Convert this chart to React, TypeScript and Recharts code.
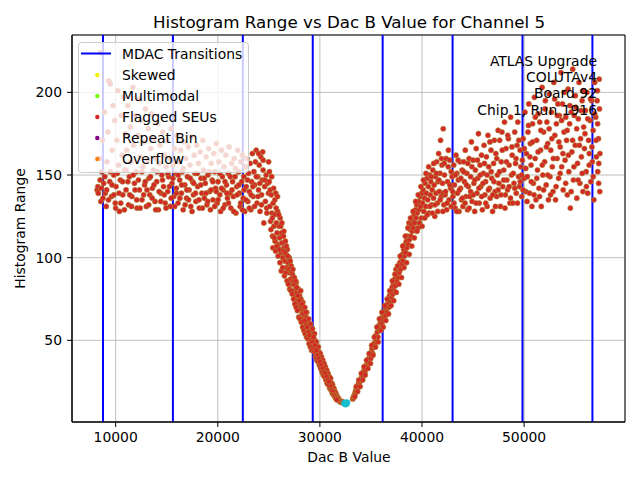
import React from 'react';
import {
  ScatterChart,
  Scatter,
  XAxis,
  YAxis,
  CartesianGrid,
  ReferenceLine,
  ReferenceArea,
} from 'recharts';

// Dac B values where the MDAC transitions sit
const mdacTransitions = [8760, 15607, 22454, 29301, 36148, 42995, 49842, 56689];

const xTicks = [10000, 20000, 30000, 40000, 50000];
const yTicks = [50, 100, 150, 200];
const xDomain: [number, number] = [5725, 59880];
const yDomain: [number, number] = [0.6, 234.7];

// [dac B value, histogram range] pairs
const leftPlateau: [number, number][] = [
  [8190, 141], [8260, 143], [8420, 160], [8494, 224], [8550, 134], [8640, 152], [8710, 171], [8830, 145], [8900, 188], [8980, 139],
  [9080, 131], [9150, 158], [9240, 176], [9330, 207], [9420, 146], [9470, 205], [9590, 137], [9660, 165], [9740, 192], [9820, 150], [9910, 183], [9960, 133],
  [10040, 143], [10120, 171], [10210, 201], [10290, 156], [10370, 128], [10450, 147], [10540, 186], [10620, 162], [10700, 138], [10790, 197], [10860, 153], [10940, 175],
  [11020, 141], [11100, 165], [11190, 192], [11260, 132], [11340, 149], [11430, 179], [11510, 158], [11590, 137], [11680, 203], [11750, 168], [11840, 145], [11920, 186],
  [12010, 152], [12090, 130], [12170, 174], [12260, 196], [12330, 141], [12420, 161], [12500, 183], [12580, 135], [12670, 155], [12750, 170], [12830, 144], [12920, 190],
  [13010, 131], [13090, 159], [13180, 178], [13260, 148], [13340, 138], [13430, 166], [13510, 187], [13590, 142], [13680, 153], [13760, 172], [13850, 134], [13930, 160],
  [14020, 146], [14100, 181], [14190, 129], [14270, 157], [14350, 168], [14440, 139], [14520, 150], [14600, 176], [14690, 143], [14770, 162], [14860, 133], [14940, 155],
  [15020, 171], [15100, 140], [15190, 149], [15270, 160], [15350, 131], [15440, 178], [15520, 145], [15600, 156], [15690, 137], [15770, 166], [15860, 151], [15940, 142],
  [16020, 174], [16110, 133], [16190, 158], [16270, 147], [16360, 165], [16440, 139], [16520, 152], [16610, 129], [16690, 170], [16770, 144], [16860, 160], [16940, 136],
  [17030, 149], [17110, 167], [17190, 141], [17280, 156], [17360, 131], [17440, 173], [17530, 146], [17610, 138], [17690, 162], [17780, 151], [17860, 134], [17940, 168],
  [18030, 143], [18110, 157], [18190, 130], [18280, 164], [18360, 148], [18440, 139], [18530, 171], [18610, 153], [18690, 136], [18780, 145], [18860, 161], [18940, 132],
  [19030, 150], [19110, 166], [19200, 140], [19280, 129], [19360, 157], [19450, 147], [19530, 135], [19610, 163], [19700, 152], [19780, 142], [19860, 169], [19950, 133],
  [20030, 146], [20110, 158], [20200, 138], [20280, 128], [20360, 165], [20450, 149], [20530, 141], [20610, 155], [20700, 132], [20780, 162], [20860, 144], [20950, 136],
  [21030, 151], [21110, 167], [21200, 139], [21280, 130], [21360, 157], [21450, 146], [21530, 137], [21610, 160], [21700, 149], [21780, 127], [21860, 143], [21950, 165],
  [22040, 152], [22110, 139], [22190, 131], [22260, 158], [22340, 146], [22410, 162], [22490, 136], [22560, 149], [22640, 128], [22710, 155], [22790, 143], [22860, 160],
  [22940, 134], [23010, 151], [23090, 140], [23160, 157], [23240, 129], [23310, 146], [23390, 163], [23460, 137], [23540, 152], [23610, 144], [23690, 158], [23760, 165],
  [23840, 133], [23910, 149], [23990, 141], [24060, 156], [24140, 128], [24210, 161], [24290, 138], [24360, 147], [24440, 153], [24510, 121], [24590, 143], [24660, 134],
  [24740, 150], [24810, 127], [24890, 145], [24960, 139],
];

// second pass over the same stretch: the crowded 127–155 strip under the legend
const leftPlateauLower: [number, number][] = [
  [8300, 139], [8480, 147], [8600, 142], [8760, 136], [8940, 149], [9120, 141], [9300, 135], [9480, 152], [9650, 144], [9830, 138],
  [10000, 130], [10160, 151], [10330, 139], [10500, 133], [10680, 146], [10850, 129], [11030, 153], [11200, 146], [11380, 138], [11550, 131],
  [11720, 150], [11900, 141], [12060, 135], [12230, 147], [12400, 130], [12570, 152], [12740, 138], [12900, 146], [13070, 141], [13240, 132],
  [13410, 149], [13580, 136], [13750, 144], [13920, 129], [14080, 152], [14250, 140], [14420, 134], [14590, 147], [14760, 138], [14930, 130],
  [15100, 151], [15270, 143], [15440, 136], [15610, 148], [15780, 131], [15950, 139], [16120, 150], [16290, 136], [16460, 144], [16630, 154],
  [16800, 132], [16970, 141], [17140, 135], [17310, 148], [17480, 128], [17650, 145], [17820, 139], [17990, 151], [18160, 135], [18330, 144],
  [18500, 130], [18670, 148], [18840, 139], [19010, 134], [19180, 152], [19350, 141], [19520, 146], [19690, 131], [19860, 140], [20030, 135],
  [20200, 151], [20370, 142], [20540, 130], [20710, 146], [20880, 139], [21050, 133], [21220, 149], [21390, 141], [21560, 128], [21730, 154],
  [21900, 138], [22070, 144], [22240, 133], [22410, 129], [22580, 141], [22750, 135], [22920, 147], [23090, 130], [23260, 138], [23430, 143],
  [23600, 131], [23770, 149], [23940, 137], [24110, 145], [24280, 132], [24450, 159], [24620, 147], [24790, 130], [24400, 164], [24000, 163],
];

const fallingEdge: [number, number][] = [
  [25040, 146], [25100, 131], [25170, 122], [25230, 138], [25300, 127], [25360, 113], [25420, 133], [25490, 119], [25550, 126], [25610, 110],
  [25680, 139], [25740, 121], [25800, 115], [25860, 128], [25930, 108], [25990, 119], [26050, 112], [26110, 124], [26180, 103], [26240, 115],
  [26300, 109], [26370, 100], [26430, 113], [26490, 106], [26560, 98], [26620, 110], [26680, 102], [26750, 94], [26810, 105], [26870, 97],
  [26940, 91], [27000, 100], [27060, 93], [27130, 87], [27190, 95], [27250, 84], [27310, 90], [27380, 86], [27440, 80], [27500, 88],
  [27570, 83], [27630, 77], [27690, 85], [27760, 79], [27820, 74], [27880, 81], [27950, 72], [28010, 77], [28070, 69], [28140, 75],
  [28200, 71], [28260, 66], [28330, 73], [28390, 68], [28450, 63], [28520, 70], [28580, 65], [28640, 60], [28710, 67], [28770, 62],
  [28830, 58], [28900, 63], [28960, 59], [29020, 55], [29090, 60], [29150, 56], [29210, 52], [29280, 57], [29340, 53], [29400, 49],
  [29470, 54], [29530, 50], [29590, 46], [29660, 49], [29720, 45], [29780, 42], [29850, 46], [29910, 43], [29970, 40], [30040, 42],
  [30100, 38], [30160, 40], [30230, 36], [30290, 38], [30350, 34], [30420, 36], [30480, 33], [30540, 34], [30610, 31], [30670, 32],
  [30730, 29], [30800, 30], [30860, 28], [30920, 28], [30990, 26], [31050, 27], [31110, 24], [31180, 24], [31240, 23], [31300, 21],
  [31370, 21], [31430, 19], [31490, 19], [31560, 18], [31620, 17], [31680, 16], [31750, 15], [31810, 15], [31870, 14], [31940, 13],
  [32000, 13], [32060, 12.5], [32130, 12.5], [32190, 13], [32260, 12.5],
];

const fallingEdgeSpread: [number, number][] = [
  [24980, 158], [25060, 152], [25130, 141], [25210, 117], [25280, 149], [25340, 124], [25400, 106], [25470, 142], [25530, 112], [25590, 135],
  [25660, 104], [25720, 130], [25790, 107], [25850, 137], [25910, 101], [25970, 126], [26030, 105], [26090, 97], [26160, 119], [26220, 92],
  [26280, 121], [26350, 94], [26410, 104], [26470, 116], [26530, 89], [26600, 103], [26660, 91], [26720, 107], [26790, 86], [26850, 101],
  [26910, 84], [26980, 93], [27040, 81], [27100, 98], [27170, 80], [27230, 92], [27290, 78], [27360, 93], [27420, 75], [27480, 84],
  [27550, 72], [27610, 86], [27670, 70], [27740, 82], [27800, 68], [27860, 77], [27930, 64], [27990, 74], [28050, 63], [28120, 80],
  [28180, 61], [28240, 72], [28310, 58], [28370, 66], [28430, 56], [28500, 62], [28560, 54], [28620, 67], [28690, 52], [28750, 58],
  [28810, 51], [28880, 55], [28940, 48], [29000, 53], [29070, 46], [29130, 50], [29190, 44], [29260, 49], [29320, 45], [29380, 52],
  [29450, 43], [29510, 47], [29570, 40], [29640, 44], [29700, 38], [29760, 41], [29830, 37], [29890, 39], [29950, 35], [30020, 37],
  [30080, 33], [30140, 35], [30210, 31], [30270, 33], [30330, 29], [30400, 31], [30460, 28], [30520, 30], [30590, 26], [30650, 28],
  [30710, 24], [30780, 26], [30840, 23], [30900, 25], [30970, 21], [31030, 22], [31090, 20], [31160, 20], [31220, 18], [31280, 19],
  [31350, 17], [31410, 17], [31470, 16], [31540, 15], [31600, 15], [31660, 14],
];

const minimumBins: [number, number][] = [
  [32420, 12], [32500, 11.5], [32580, 11.8], [32640, 12.3],
];

const risingEdge: [number, number][] = [
  [33220, 14.5], [33260, 15], [33300, 16], [33350, 16], [33400, 17], [33450, 18], [33490, 19], [33540, 20], [33590, 21], [33650, 21],
  [33720, 22], [33780, 24], [33840, 23], [33910, 25], [33970, 26], [34030, 26], [34100, 28], [34160, 29], [34220, 28], [34290, 31],
  [34350, 32], [34410, 31], [34480, 34], [34540, 35], [34600, 34], [34670, 37], [34730, 38], [34790, 37], [34860, 40], [34920, 41],
  [34980, 39], [35050, 43], [35110, 45], [35170, 42], [35240, 47], [35300, 48], [35360, 46], [35430, 51], [35490, 53], [35550, 50],
  [35620, 55], [35680, 52], [35740, 57], [35810, 59], [35870, 56], [35930, 61], [36000, 63], [36060, 60], [36120, 64], [36190, 62],
  [36250, 66], [36310, 64], [36380, 68], [36440, 65], [36500, 70], [36570, 67], [36630, 72], [36690, 75], [36760, 70], [36820, 77],
  [36880, 74], [36950, 79], [37010, 76], [37070, 82], [37140, 78], [37200, 84], [37260, 80], [37330, 87], [37390, 83], [37450, 93],
  [37520, 86], [37580, 90], [37640, 88], [37710, 94], [37770, 91], [37830, 97], [37900, 93], [37960, 100], [38020, 96], [38090, 102],
  [38150, 98], [38210, 105], [38280, 101], [38340, 108], [38400, 103], [38470, 110], [38530, 106], [38590, 113], [38660, 108], [38720, 121],
  [38780, 111], [38850, 117], [38910, 113], [38970, 120], [39040, 116], [39100, 123], [39160, 118], [39230, 126], [39290, 121], [39350, 129],
  [39420, 124], [39480, 132], [39540, 127], [39610, 118], [39670, 134], [39730, 129], [39800, 137], [39860, 131], [39920, 124], [39990, 139],
  [40050, 133], [40110, 141], [40180, 128], [40240, 136], [40300, 145], [40370, 131], [40430, 139], [40490, 148], [40560, 135], [40620, 143],
  [40680, 127], [40750, 150], [40810, 138], [40870, 146], [40940, 132], [41000, 141], [41060, 153], [41130, 136], [41190, 144], [41250, 125],
  [41320, 149], [41380, 139], [41440, 158], [41510, 133], [41570, 146], [41630, 163], [41700, 140], [41760, 151], [41820, 171], [41890, 137],
  [41950, 156], [42010, 145], [42080, 178], [42140, 132],
];

const risingEdgeSpread: [number, number][] = [
  [33420, 16], [33560, 22], [33690, 19], [33810, 26], [33940, 22], [34060, 30], [34190, 26], [34320, 34], [34440, 29], [34570, 38],
  [34700, 33], [34820, 42], [34950, 36], [35070, 47], [35200, 41], [35330, 52], [35450, 46], [35580, 58], [35710, 49], [35830, 63],
  [35960, 56], [36080, 67], [36210, 58], [36340, 71], [36460, 62], [36590, 75], [36720, 66], [36840, 80], [36970, 71], [37100, 86],
  [37230, 74], [37350, 90], [37480, 79], [37610, 95], [37730, 84], [37860, 101], [37990, 88], [38110, 107], [38240, 94], [38370, 113],
  [38490, 97], [38620, 118], [38750, 102], [38870, 124], [39000, 107], [39130, 128], [39250, 112], [39380, 134], [39510, 116], [39630, 138],
  [39760, 121], [39890, 143], [40010, 119], [40140, 147], [40270, 124], [40390, 151], [40520, 126], [40650, 155], [40770, 131], [40900, 149],
  [41030, 127], [41150, 157], [41280, 132], [41410, 151], [41540, 128], [41660, 147], [41790, 135], [41910, 160], [42040, 139],
];

const rightPlateau: [number, number][] = [
  [42200, 150], [42270, 138], [42350, 160], [42420, 129], [42500, 146], [42570, 155], [42650, 135], [42720, 159], [42800, 142], [42870, 131], [42950, 149],
  [43030, 137], [43110, 156], [43180, 144], [43260, 130], [43330, 162], [43410, 151], [43480, 139], [43560, 147], [43630, 128], [43710, 158], [43780, 142], [43860, 135], [43930, 153],
  [44010, 131], [44090, 158], [44160, 146], [44240, 165], [44310, 137], [44390, 151], [44460, 129], [44540, 143], [44610, 160], [44690, 137], [44760, 149], [44840, 170], [44910, 134],
  [45010, 159], [45080, 145], [45160, 128], [45230, 153], [45310, 166], [45380, 139], [45460, 148], [45530, 175], [45610, 133], [45680, 156], [45760, 143], [45830, 162], [45910, 129],
  [46010, 151], [46080, 168], [46160, 138], [46230, 146], [46310, 161], [46380, 131], [46460, 174], [46530, 155], [46610, 142], [46680, 136], [46760, 165], [46830, 148], [46910, 128],
  [47010, 157], [47080, 171], [47160, 140], [47230, 163], [47310, 137], [47380, 150], [47460, 177], [47530, 145], [47610, 171], [47680, 131], [47760, 158], [47830, 176], [47910, 143],
  [48010, 153], [48080, 182], [48160, 138], [48230, 166], [48310, 147], [48380, 141], [48460, 172], [48530, 156], [48610, 133], [48680, 185], [48760, 150], [48830, 162], [48910, 133],
  [49010, 145], [49080, 176], [49160, 157], [49230, 139], [49310, 168], [49380, 182], [49460, 149], [49530, 143], [49610, 165], [49680, 155], [49760, 137], [49830, 159], [49910, 172],
  [50010, 148], [50080, 188], [50160, 140], [50230, 163], [50310, 149], [50380, 176], [50460, 193], [50530, 139], [50610, 169], [50680, 156], [50760, 131], [50830, 181], [50910, 145],
  [51010, 197], [51080, 160], [51160, 135], [51230, 171], [51310, 153], [51380, 187], [51460, 142], [51530, 182], [51610, 165], [51680, 131], [51760, 203], [51830, 150], [51910, 176],
  [52010, 158], [52080, 195], [52160, 144], [52230, 182], [52310, 169], [52380, 135], [52460, 199], [52530, 149], [52610, 165], [52680, 188], [52760, 155], [52830, 140], [52910, 206],
  [53010, 174], [53080, 135], [53160, 181], [53230, 160], [53310, 193], [53380, 148], [53460, 186], [53530, 167], [53610, 212], [53680, 155], [53760, 193], [53830, 141], [53910, 176],
  [54010, 159], [54080, 185], [54160, 171], [54230, 138], [54310, 202], [54380, 152], [54460, 181], [54530, 130], [54610, 188], [54680, 164], [54760, 214], [54830, 147], [54910, 186],
  [55010, 168], [55080, 191], [55160, 136], [55230, 157], [55310, 184], [55380, 206], [55460, 145], [55530, 172], [55610, 161], [55680, 195], [55760, 140], [55830, 179], [55910, 166],
  [56010, 189], [56080, 152], [56160, 200], [56230, 139], [56310, 171], [56380, 163], [56460, 183], [56530, 146], [56610, 195], [56680, 158], [56760, 177], [56830, 135], [56910, 206],
  [57010, 185], [57080, 161], [57150, 195], [57210, 152], [57280, 172], [57350, 208], [57420, 163], [57200, 181], [57300, 145],
];

const rightPlateauFill: [number, number][] = [
  [42040, 128], [42180, 157], [42310, 140], [42460, 133], [42590, 165], [42730, 144], [42860, 152], [43000, 140], [43140, 133], [43270, 150],
  [43400, 128], [43540, 159], [43670, 141], [43810, 148], [43950, 136], [44080, 152], [44220, 133], [44350, 144], [44490, 157], [44620, 130],
  [44760, 140], [44890, 155], [45030, 138], [45160, 147], [45300, 133], [45430, 159], [45570, 142], [45700, 150], [45840, 137], [45970, 145],
  [46110, 157], [46240, 133], [46380, 150], [46510, 141], [46650, 170], [46780, 152], [46920, 138], [47050, 146], [47190, 131], [47320, 160],
  [47460, 141], [47590, 152], [47730, 138], [47860, 165], [48000, 147], [48130, 130], [48270, 158], [48400, 174], [48540, 143], [48670, 136],
  [48810, 167], [48940, 151], [49080, 142], [49210, 160], [49350, 133], [49480, 171], [49620, 146], [49750, 150], [49890, 141], [50020, 166],
  [50160, 154], [50290, 134], [50430, 180], [50560, 161], [50700, 146], [50830, 170], [50970, 138], [51100, 185], [51240, 148], [51370, 164],
  [51510, 137], [51640, 177], [51780, 156], [51910, 141], [52050, 190], [52180, 167], [52320, 150], [52450, 178], [52590, 138], [52720, 172],
  [52860, 160], [52990, 196], [53130, 143], [53260, 186], [53400, 170], [53530, 151], [53670, 183], [53800, 163], [53940, 200], [54070, 145],
  [54210, 177], [54340, 162], [54480, 192], [54610, 140], [54750, 171], [54880, 155], [55020, 198], [55150, 178], [55290, 147], [55420, 168],
  [55560, 189], [55690, 151], [55830, 201], [55960, 175], [56100, 143], [56230, 184], [56370, 156], [56500, 196], [56640, 167], [56770, 149],
  [56910, 187], [57040, 171], [57180, 201], [57310, 157], [57380, 190], [57410, 140],
];

const toPoints = (pairs: [number, number][]) => pairs.map(([dac, range]) => ({ dac, range }));

const binPoints = toPoints([
  ...leftPlateau,
  ...leftPlateauLower,
  ...fallingEdge,
  ...fallingEdgeSpread,
  ...risingEdge,
  ...risingEdgeSpread,
  ...rightPlateau,
  ...rightPlateauFill,
]);
const minimumPoints = toPoints(minimumBins);

const FONT = '"DejaVu Sans", sans-serif';

const RedDot = (props: any) => (
  <circle cx={props.cx} cy={props.cy} r={2.6} fill="#d62728" stroke="#a8862a" strokeWidth={0.6} />
);

const CyanDot = (props: any) => (
  <circle cx={props.cx} cy={props.cy} r={3.2} fill="#17becf" stroke="#17becf" strokeWidth={0.5} />
);

const legendItems = [
  { label: 'Skewed', color: '#f2f200' },
  { label: 'Multimodal', color: '#7cfc00' },
  { label: 'Flagged SEUs', color: '#d62728' },
  { label: 'Repeat Bin', color: '#800080' },
  { label: 'Overflow', color: '#ff7f0e' },
];

const noteLines = ['ATLAS Upgrade', 'COLUTAv4', 'Board 92', 'Chip 1, Run 1916'];

export default function App() {
  return (
    <div style={{ position: 'absolute', left: 0, top: 0, width: 640, height: 480, background: '#fff' }}>
      <ScatterChart width={640} height={480} margin={{ top: 35, right: 15, bottom: 0, left: 0 }}>
        <CartesianGrid stroke="#b0b0b0" strokeWidth={0.8} />
        <XAxis
          type="number"
          dataKey="dac"
          domain={xDomain}
          ticks={xTicks}
          allowDataOverflow
          height={58}
          tickSize={5}
          tickMargin={5}
          stroke="#000"
          tick={{ fill: '#000', fontSize: 13.9, fontFamily: FONT }}
        />
        <YAxis
          type="number"
          dataKey="range"
          domain={yDomain}
          ticks={yTicks}
          allowDataOverflow
          width={72}
          tickSize={5}
          tickMargin={5}
          stroke="#000"
          tick={{ fill: '#000', fontSize: 13.9, fontFamily: FONT }}
        />
        <Scatter data={binPoints} shape={RedDot} isAnimationActive={false} />
        <Scatter data={minimumPoints} shape={CyanDot} isAnimationActive={false} />
        {mdacTransitions.map((x) => (
          <ReferenceLine key={x} x={x} stroke="#0000ff" strokeWidth={2} />
        ))}
        <ReferenceArea
          x1={xDomain[0]}
          x2={xDomain[1]}
          y1={yDomain[0]}
          y2={yDomain[1]}
          fill="none"
          fillOpacity={0}
          stroke="#000"
          strokeWidth={1}
        />
      </ScatterChart>

      <svg
        width={640}
        height={480}
        style={{ position: 'absolute', left: 0, top: 0, pointerEvents: 'none' }}
        fontFamily={FONT}
      >
        <text x={349} y={27.5} textAnchor="middle" fontSize={16.7} fill="#000">
          Histogram Range vs Dac B Value for Channel 5
        </text>
        <text x={349} y={462} textAnchor="middle" fontSize={13.9} fill="#000">
          Dac B Value
        </text>
        <text x={25} y={228.5} textAnchor="middle" fontSize={13.9} fill="#000" transform="rotate(-90 25 228.5)">
          Histogram Range
        </text>

        {noteLines.map((line, i) => (
          <text key={line} x={597} y={66 + i * 16.2} textAnchor="end" fontSize={13.9} fill="#000">
            {line}
          </text>
        ))}

        <rect x={78.5} y={42.5} width={170} height={130} rx={3} fill="#fff" fillOpacity={0.8} stroke="#cccccc" strokeWidth={1} />
        <line x1={81} y1={53.5} x2={111} y2={53.5} stroke="#0000ff" strokeWidth={2} />
        <text x={122} y={58.5} fontSize={13.9} fill="#000">MDAC Transitions</text>
        {legendItems.map((item, i) => (
          <g key={item.label}>
            <circle cx={97.3} cy={75 + i * 21} r={2.2} fill={item.color} />
            <text x={122} y={80 + i * 21} fontSize={13.9} fill="#000">
              {item.label}
            </text>
          </g>
        ))}
      </svg>
    </div>
  );
}
